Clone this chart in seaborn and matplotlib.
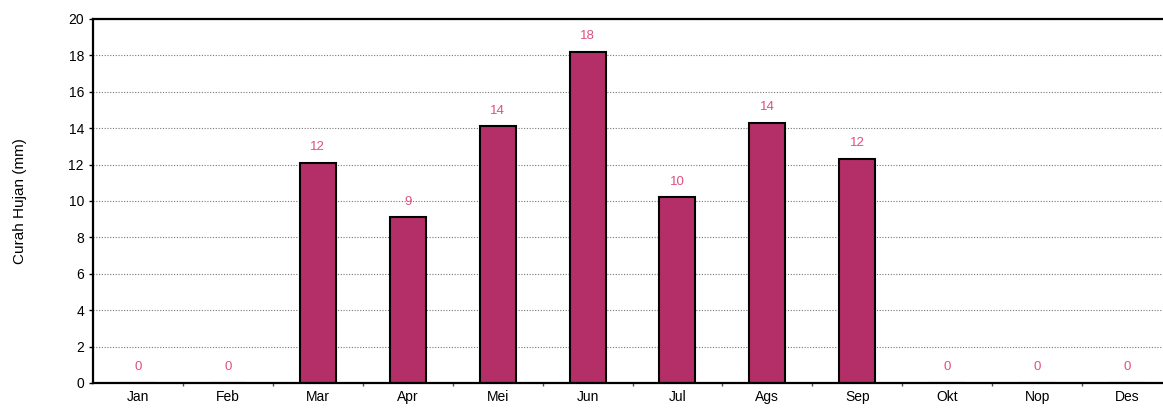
import numpy as np
import pandas as pd
import matplotlib
matplotlib.use("Agg")
import matplotlib.pyplot as plt
import seaborn as sns

# monthly rainfall (mm)
months = ["Jan", "Feb", "Mar", "Apr", "Mei", "Jun", "Jul", "Ags", "Sep", "Okt", "Nop", "Des"]
rain = [0, 0, 12.1, 9.1, 14.1, 18.2, 10.2, 14.3, 12.3, 0, 0, 0]
bar_labels = ["0", "0", "12", "9", "14", "18", "10", "14", "12", "0", "0", "0"]

bar_color = "#b42f68"
label_color = "#e0507f"

sns.set_style("white")
plt.rcParams['font.family'] = ['Liberation Sans', 'DejaVu Sans']
plt.rcParams['text.color'] = 'black'
plt.rcParams['xtick.color'] = 'black'
plt.rcParams['ytick.color'] = 'black'
plt.rcParams['axes.labelcolor'] = 'black'

df = pd.DataFrame({"bulan": months, "hujan": rain})

fig = plt.figure(figsize=(11.63, 4.08), dpi=100)
ax = fig.add_axes([93/1163, 1-383/408, (1172-93)/1163, (383-19)/408])

sns.barplot(data=df, x="bulan", y="hujan", color=bar_color, width=0.4,
            edgecolor="black", linewidth=1.5, saturation=1, ax=ax)

# value labels above the bars
for i, (v, lab) in enumerate(zip(rain, bar_labels)):
    ax.annotate(lab, (i, v), xytext=(0, 7), textcoords="offset points",
                ha="center", va="bottom", color=label_color, fontsize=9.5)

ax.set_ylim(0, 20)
ax.set_xlim(-0.5, 11.5)
ax.set_yticks(np.arange(0, 21, 2))
ax.yaxis.grid(True, color="#777777", linestyle=(0, (1, 1.5)), linewidth=0.8)
ax.set_axisbelow(True)

# category labels in the middle, tick marks on the boundaries
ax.set_xticks(range(len(months)))
ax.set_xticklabels(months)
ax.set_xticks(np.arange(0.5, 11.5, 1), minor=True)
ax.tick_params(axis="x", which="major", length=0, labelsize=10, pad=5)
ax.tick_params(axis="x", which="minor", length=2.5, width=1, color="#555555",
               direction="out", bottom=True)
ax.tick_params(axis="y", length=3, width=1, labelsize=10, direction="out", left=True)

ax.set_xlabel("")
ax.set_ylabel("Curah Hujan (mm)", fontsize=11, labelpad=30)

for s in ["left", "bottom", "top"]:
    ax.spines[s].set_color("black")
    ax.spines[s].set_linewidth(1.6)
ax.spines["right"].set_visible(False)

plt.savefig("out.png", dpi=100)
